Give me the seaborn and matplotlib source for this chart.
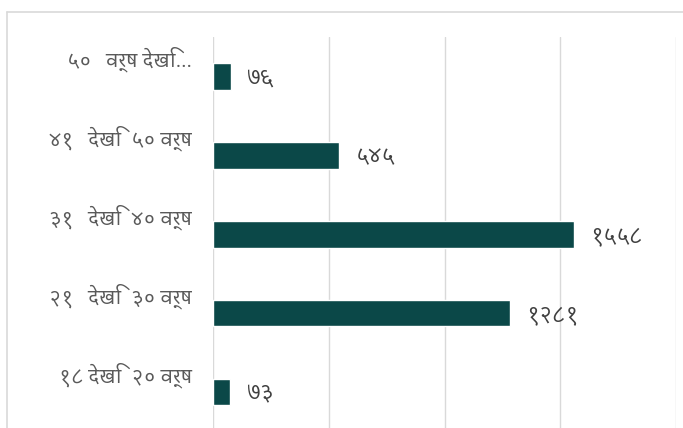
import matplotlib
matplotlib.use("Agg")
import matplotlib.pyplot as plt
import matplotlib.transforms as mtransforms
from matplotlib import font_manager
import seaborn as sns

# age groups, top to bottom as in the chart
age_groups = ["५०   वर्ष देखि...", "४१   देखि  ५० वर्ष", "३१   देखि  ४० वर्ष",
              "२१   देखि  ३० वर्ष", "१८ देखि  २० वर्ष"]
counts = [76, 545, 1558, 1281, 73]
count_labels = ["७६", "५४५", "१५५८", "१२८१", "७३"]
x_ticks = [0, 500, 1000, 1500, 2000]

# pick a font that has Devanagari glyphs
names = {f.name for f in font_manager.fontManager.ttflist}
deva = "DejaVu Sans"
for cand in ["Martel Sans", "Lohit Devanagari", "Noto Sans Devanagari", "Mukta"]:
    if cand in names:
        deva = cand
        break

sns.set_style("white")
plt.rcParams["font.family"] = [deva, "DejaVu Sans"]

fig = plt.figure(figsize=(6.83, 4.28), dpi=100)
ax = fig.add_axes([0.3119, -0.008, 0.6779, 0.9218])

sns.barplot(x=counts, y=age_groups, orient="h", color="#0b4848",
            saturation=1, width=0.34, ax=ax)

ax.set_xlim(0, 2000)
ax.set_ylim(len(age_groups) - 0.5, -0.5)
ax.set_xticks(x_ticks)
ax.tick_params(axis="x", length=0, labelbottom=False)
ax.tick_params(axis="y", length=0, pad=15, labelsize=14, labelcolor="#595959")
ax.grid(axis="x", color="#d9d9d9", linewidth=1)
ax.set_axisbelow(True)
for s in ax.spines.values():
    s.set_visible(False)
ax.set_xlabel("")
ax.set_ylabel("")

# category labels sit a bit above the bars
shift = mtransforms.ScaledTranslation(0, 14 / 72, fig.dpi_scale_trans)
for lbl in ax.get_yticklabels():
    lbl.set_transform(lbl.get_transform() + shift)

for i, (v, t) in enumerate(zip(counts, count_labels)):
    ax.annotate(t, (v, i), xytext=(12, -1), textcoords="offset points",
                ha="left", va="center", fontsize=15, color="#404040")

# outer chart frame
fig.add_artist(plt.Line2D([6.5 / 683, 6.5 / 683], [0, 1 - 11.5 / 428],
                          color="#d9d9d9", linewidth=1.2))
fig.add_artist(plt.Line2D([6.5 / 683, 1], [1 - 11.5 / 428, 1 - 11.5 / 428],
                          color="#d9d9d9", linewidth=1.2))

fig.savefig("out.png", dpi=100)
